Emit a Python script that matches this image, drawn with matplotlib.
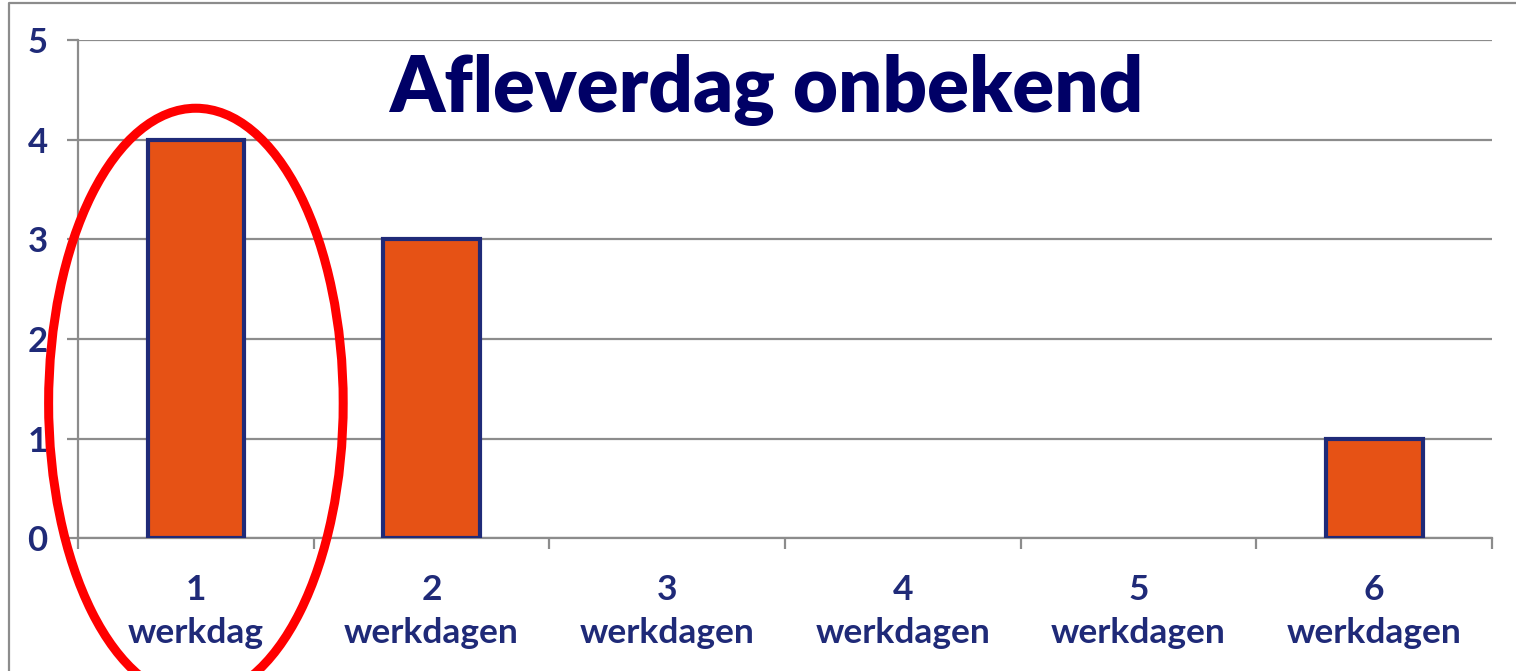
import matplotlib
matplotlib.use('agg')
import matplotlib.pyplot as plt
from matplotlib.patches import Ellipse
from matplotlib.lines import Line2D
import numpy as np

# chart data
categories = ['1\nwerkdag', '2\nwerkdagen', '3\nwerkdagen',
              '4\nwerkdagen', '5\nwerkdagen', '6\nwerkdagen']
counts = [4, 3, 0, 0, 0, 1]
yticks = [0, 1, 2, 3, 4, 5]
title = 'Afleverdag onbekend'

label_color = '#1f2a78'
grid_color = '#8c8c8c'

plt.rcParams['font.family'] = ['Lato', 'DejaVu Sans']

fig = plt.figure(figsize=(15.16, 6.71), dpi=100)
ax = fig.add_axes([0.0515, 0.198, 0.9327, 0.7424])

x = np.arange(1, len(categories) + 1)
# empty categories get no outline
edge_w = [3.0 if c else 0 for c in counts]
ax.bar(x, counts, width=0.41, color='#e65215', edgecolor='#1f2a78',
       linewidth=edge_w, zorder=3)

ax.set_xlim(0.5, len(categories) + 0.5)
ax.set_ylim(0, 5)

# horizontal grid
ax.set_yticks(yticks)
ax.yaxis.grid(True, color=grid_color, linewidth=1.6, zorder=0)
ax.set_axisbelow(True)
ax.tick_params(axis='y', length=8, width=1.6, color=grid_color, pad=14,
               labelsize=25, labelcolor=label_color)
for lbl in ax.get_yticklabels():
    lbl.set_fontweight('bold')

# category labels centered, ticks between categories
ax.set_xticks(np.arange(0.5, len(categories) + 1, 1.0))
ax.set_xticklabels([])
ax.tick_params(axis='x', length=8, width=1.6, color=grid_color)
ax.set_xticks(x, minor=True)
ax.set_xticklabels(categories, minor=True, fontsize=25.5, fontweight='bold',
                   color=label_color, linespacing=1.42)
ax.tick_params(axis='x', which='minor', length=0, pad=26)

for side in ['top', 'right']:
    ax.spines[side].set_visible(False)
for side in ['left', 'bottom']:
    ax.spines[side].set_color(grid_color)
    ax.spines[side].set_linewidth(1.6)

ax.text(3.42, 4.5, title, ha='center', va='center', fontsize=56,
        fontweight='heavy', color='#000066', zorder=4)

# red highlight around first category
ax.add_patch(Ellipse((1, 1.355), 1.25, 5.92, fill=False, edgecolor='#ff0000',
                     linewidth=6.5, clip_on=False, zorder=10))

# outer frame (top and left)
fig.add_artist(Line2D([0.0059, 0.0059, 1.0], [0.0, 0.9955, 0.9955],
                      color=grid_color, linewidth=1.6))

fig.savefig('out.png', dpi=100)
